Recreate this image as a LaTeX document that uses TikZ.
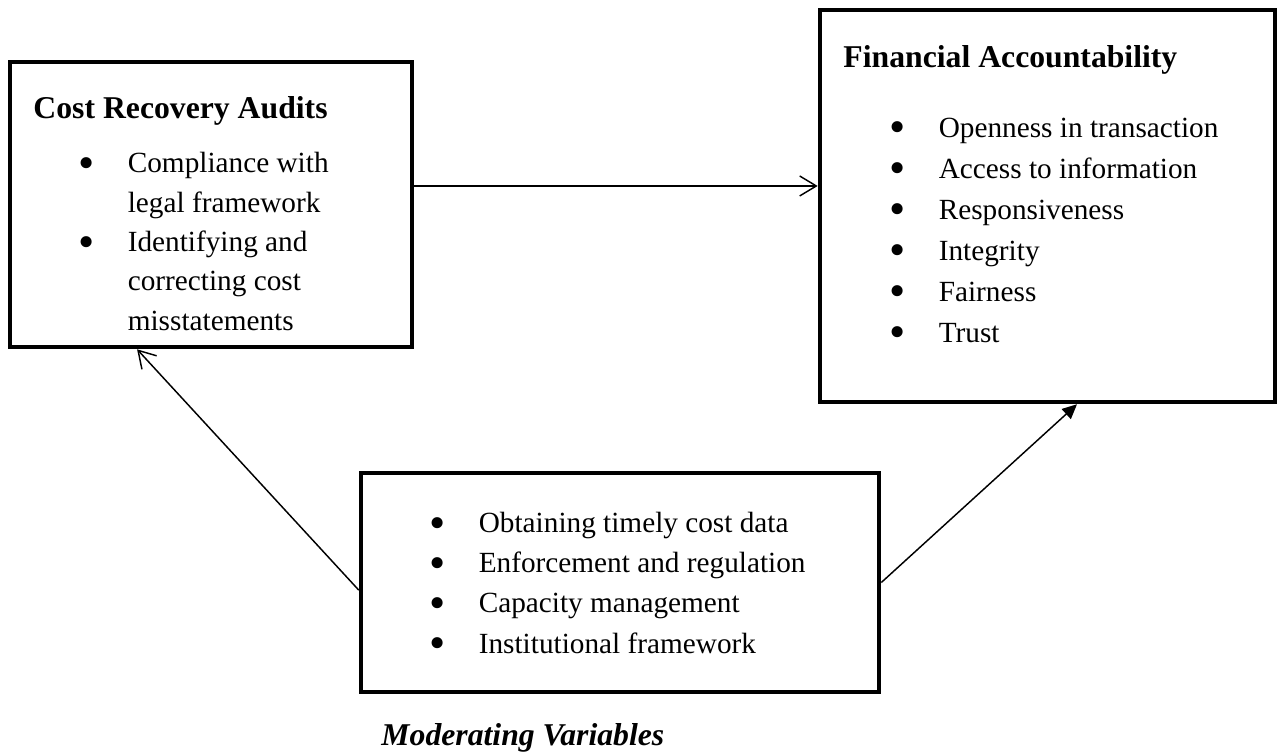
\documentclass[tikz,border=0pt]{standalone}
\usepackage{fontspec}
\setmainfont{Liberation Serif}
\usetikzlibrary{arrows.meta}
\newcommand{\bul}{\makebox[19pt][l]{\hspace{-1.2pt}\raisebox{-2.4pt}{\fontsize{19}{19}\selectfont•}}}
\newcommand{\ind}{\hspace{19pt}}

\begin{document}
\begin{tikzpicture}[x=0.41pt,y=-0.41pt,font=\fontsize{12}{16.5}\selectfont,
  box/.style={draw,line width=1.85pt,inner sep=0pt},
  lst/.style={align=left,anchor=base west,inner sep=0pt},
  head/.style={anchor=base west,inner sep=0pt,font=\fontsize{13}{16}\selectfont\bfseries},
  link/.style={line width=0.6pt,-{Straight Barb[length=6.8pt,width=8.2pt]}},
  linkfill/.style={line width=0.6pt,-{Triangle[length=6pt,width=5.5pt]}}]
  \useasboundingbox (0,0) rectangle (1283,755);
  % the three boxes
  \node[box,minimum width=164.8pt,minimum height=116.9pt] (cra) at (211,204.5) {};
  \node[box,minimum width=186.6pt,minimum height=160.7pt] (fa) at (1047.5,206) {};
  \node[box,minimum width=212.4pt,minimum height=89.8pt] (mv) at (620,582.5) {};
  % what goes in them (lists sit on the baseline of their last line)
  \node[head] (craH) at (33,118) {Cost Recovery Audits};
  \node[lst,font=\fontsize{12}{16.1}\selectfont] (craL) at (81,330)
    {\bul Compliance with\\ \ind legal framework\\ \bul Identifying and\\ \ind correcting cost\\ \ind misstatements};
  \node[head] (faH) at (843,67) {Financial Accountability};
  \node[lst,font=\fontsize{12}{16.8}\selectfont] (faL) at (892,342)
    {\bul Openness in transaction\\ \bul Access to information\\ \bul Responsiveness\\ \bul Integrity\\ \bul Fairness\\ \bul Trust};
  \node[lst] (mvL) at (432,653)
    {\bul Obtaining timely cost data\\ \bul Enforcement and regulation\\ \bul Capacity management\\ \bul Institutional framework};
  \node[head,font=\fontsize{13}{16}\selectfont\bfseries\itshape] (mvH) at (381,745) {Moderating Variables};
  % links
  \draw[link] ([yshift=7.6pt]cra.east) -- ([yshift=7.6pt]cra.east -| fa.west);
  \draw[link] ([yshift=-3.1pt]mv.west) -- ([xshift=-30.3pt]cra.south);
  \draw[linkfill] (mv.east) -- ([xshift=12.1pt]fa.south);
\end{tikzpicture}
\end{document}
